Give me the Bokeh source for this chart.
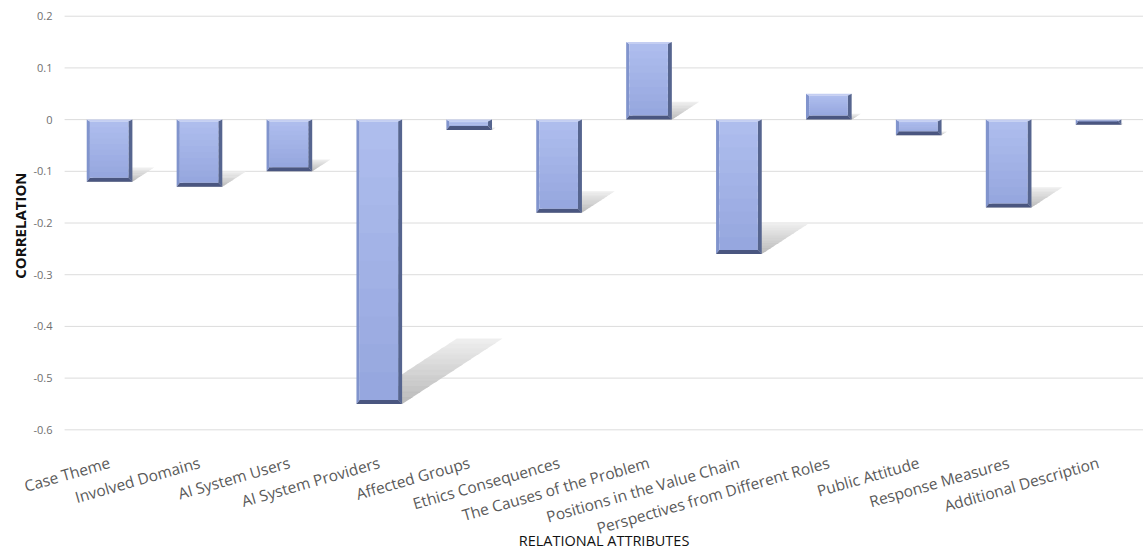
import numpy as np
from bokeh.plotting import figure
from bokeh.models import Range1d, ColumnDataSource
from bokeh.core.properties import value
from bokeh.embed import file_html
from bokeh.resources import INLINE

# ---- data -------------------------------------------------------------
categories = [
    "Case Theme", "Involved Domains", "AI System Users", "AI System Providers",
    "Affected Groups", "Ethics Consequences", "The Causes of the Problem",
    "Positions in the Value Chain", "Perspectives from Different Roles",
    "Public Attitude", "Response Measures", "Additional Description",
]
correlation = [-0.12, -0.13, -0.10, -0.55, -0.02, -0.18, 0.15, -0.26, 0.05, -0.03, -0.17, -0.01]

y_ticks = [0.2, 0.1, 0.0, -0.1, -0.2, -0.3, -0.4, -0.5, -0.6]
y_tick_labels = ["0.2", "0.1", "0", "-0.1", "-0.2", "-0.3", "-0.4", "-0.5", "-0.6"]

x_title = "RELATIONAL ATTRIBUTES"
y_title = "CORRELATION"

# ---- layout / style ---------------------------------------------------
W, H = 1143, 552
X_LO, X_HI = -0.713, 12.0
Y_LO, Y_HI = -0.8373, 0.2304
PX_X = W / (X_HI - X_LO)          # pixels per category
PX_Y = H / (Y_HI - Y_LO)          # pixels per correlation unit
BAR_HALF = 0.254
BEV_X = 4.0 / PX_X
BEV_Y = 4.0 / PX_Y

FONT = value("Open Sans")


def mix(c0, c1, t):
    a = [int(c0[i:i + 2], 16) for i in (1, 3, 5)]
    b = [int(c1[i:i + 2], 16) for i in (1, 3, 5)]
    return "#%02x%02x%02x" % tuple(int(round(a[k] + (b[k] - a[k]) * t)) for k in range(3))


p = figure(width=W, height=H, x_range=Range1d(X_LO, X_HI), y_range=Range1d(Y_LO, Y_HI),
           output_backend="svg", toolbar_location=None, min_border=0,
           background_fill_color="white", border_fill_color="white")
p.axis.visible = False
p.grid.visible = False
p.outline_line_color = None

# horizontal gridlines
p.segment(x0=[0] * len(y_ticks), x1=[X_HI] * len(y_ticks), y0=y_ticks, y1=y_ticks,
          line_color="#dcdcdc", line_width=1)

# y tick labels
p.text(x=[-0.135] * len(y_ticks), y=y_ticks, text=y_tick_labels, text_align="right",
       text_baseline="middle", text_font=FONT, text_font_size="11px", text_color="#6f6f6f")

# ---- cast shadows -----------------------------------------------------
sh_xs, sh_ys, sh_col = [], [], []
n_sh = 12
for i, v in enumerate(correlation):
    xc = i + 0.5
    xl, xr = xc - BAR_HALF, xc + BAR_HALF
    base = min(v, 0.0)
    mag = abs(v)
    dx, dy = 2.03 * mag, 0.23 * mag
    for k in range(n_sh):
        t0, t1 = k / n_sh, min((k + 1.3) / n_sh, 1.0)
        sh_xs.append([xl + dx * t0, xr + dx * t0, xr + dx * t1, xl + dx * t1])
        sh_ys.append([base + dy * t0, base + dy * t0, base + dy * t1, base + dy * t1])
        sh_col.append(mix("#b4b4b4", "#eeeeee", (k + 0.5) / n_sh))
p.patches(xs=sh_xs, ys=sh_ys, fill_color=sh_col, line_color=None, fill_alpha=0.9)

# ---- bevelled bars ----------------------------------------------------
face_xs, face_ys, face_col = [], [], []
bev_xs, bev_ys, bev_col = [], [], []
n_face = 10
for i, v in enumerate(correlation):
    xc = i + 0.5
    xl, xr = xc - BAR_HALF, xc + BAR_HALF
    top, bot = max(v, 0.0), min(v, 0.0)
    ixl, ixr = xl + BEV_X * 0.8, xr - BEV_X
    itop, ibot = top - BEV_Y * 0.5, bot + BEV_Y
    # face with a soft vertical gradient; each band overlaps the next one
    for k in range(n_face):
        y0 = itop - (itop - ibot) * k / n_face
        y1 = itop - (itop - ibot) * min((k + 1.5) / n_face, 1.0)
        face_xs.append([ixl, ixr, ixr, ixl])
        face_ys.append([y0, y0, y1, y1])
        face_col.append(mix("#afbeee", "#95a6de", (k + 0.5) / n_face))
    # left, top, right, bottom bevels
    bev_xs += [[xl, ixl, ixl, xl], [xl, xr, ixr, ixl], [xr, ixr, ixr, xr], [xl, ixl, ixr, xr]]
    bev_ys += [[top, itop, ibot, bot], [top, top, itop, itop], [top, itop, ibot, bot], [bot, ibot, ibot, bot]]
    bev_col += ["#8194cd", "#c4cef2", "#56658f", "#4a5680"]

p.patches(xs=bev_xs, ys=bev_ys, fill_color=bev_col, line_color=None)
p.patches(xs=face_xs, ys=face_ys, fill_color=face_col, line_color=None)

# ---- category labels --------------------------------------------------
lab = ColumnDataSource(dict(x=[i + 0.5 for i in range(len(categories))],
                            y=[-0.662] * len(categories), text=categories))
p.text(x="x", y="y", text="text", source=lab, angle=np.deg2rad(16), text_align="right",
       text_baseline="alphabetic", text_font=FONT, text_font_size="15.5px", text_color="#5a5a5a")

# ---- axis titles ------------------------------------------------------
p.text(x=[6.0], y=[-0.8141], text=[x_title], text_align="center", text_baseline="middle",
       text_font=FONT, text_font_size="14.5px", text_color="#111111")
p.text(x=[-0.50], y=[-0.205], text=[y_title], angle=np.pi / 2, text_align="center",
       text_baseline="middle", text_font=FONT, text_font_size="15px", text_font_style="bold",
       text_color="#111111")

open("out.html", "w").write(file_html(p, INLINE))
